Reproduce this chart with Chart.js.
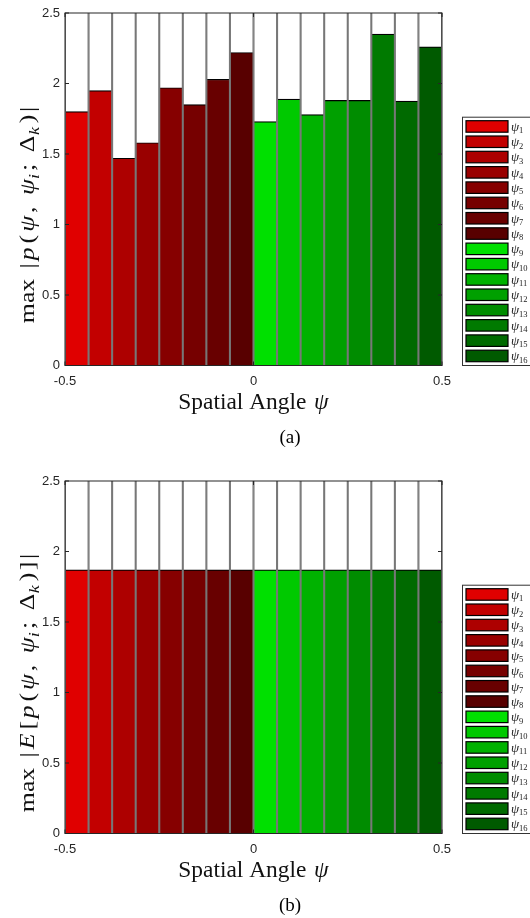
<!DOCTYPE html>
<html>
<head>
<meta charset="utf-8">
<script src="https://cdn.jsdelivr.net/npm/chart.js@4.4.1/dist/chart.umd.min.js"></script>
<style>
  html, body { margin: 0; padding: 0; background: #fff; overflow: hidden; }
  .panel { position: absolute; left: 0; width: 530px; height: 450px; }
  #panelA { top: 0; }
  #panelB { top: 468px; }
</style>
</head>
<body>
<div class="panel" id="panelA"><canvas id="chartA" width="530" height="450"></canvas></div>
<div class="panel" id="panelB"><canvas id="chartB" width="530" height="450"></canvas></div>
<script>
// centres of the 16 angle bins on [-0.5, 0.5]
const psiCenters = [-0.46875, -0.40625, -0.34375, -0.28125, -0.21875, -0.15625, -0.09375, -0.03125,
                     0.03125,  0.09375,  0.15625,  0.21875,  0.28125,  0.34375,  0.40625,  0.46875];
const psiIndex = ['1', '2', '3', '4', '5', '6', '7', '8', '9', '10', '11', '12', '13', '14', '15', '16'];

// (a) peak of |p| per beam, (b) peak of |E[p]| per beam
const peakValues     = [1.80, 1.95, 1.47, 1.58, 1.97, 1.85, 2.03, 2.22,
                        1.73, 1.89, 1.78, 1.88, 1.88, 2.35, 1.875, 2.26];
const expectedValues = [1.87, 1.87, 1.87, 1.87, 1.87, 1.87, 1.87, 1.87,
                        1.87, 1.87, 1.87, 1.87, 1.87, 1.87, 1.87, 1.87];

const xTicks = [-0.5, 0, 0.5];
const yTicks = [0, 0.5, 1, 1.5, 2, 2.5];
const yMax = 2.5;

const barColors = ['#e00000', '#c20000', '#ad0000', '#990000', '#860000', '#760000', '#680000', '#580000',
                   '#00e000', '#00c900', '#00b200', '#00a000', '#008c00', '#007a00', '#006a00', '#005a00'];

const SERIF = '"Liberation Serif", "Times New Roman", serif';
const SANS = '"Liberation Sans", Arial, sans-serif';
const INK = '#262626';

// rich text pieces: [text, italic, subscript, extra gap after (em)]
const titleA = [['max', 0, 0, 0.4], ['|', 0, 0, 0.12], ['p', 1, 0, 0.15], ['(', 0, 0, 0.12], ['\u03c8', 1, 0, 0.1], [',', 0, 0, 0.45],
                ['\u03c8', 1, 0, 0], ['i', 1, 1, 0.12], [';', 0, 0, 0.45], ['\u0394', 0, 0, 0.02], ['k', 1, 1, 0.15], [')', 0, 0, 0.1], ['|', 0, 0, 0]];
const titleB = [['max', 0, 0, 0.4], ['|', 0, 0, 0.12], ['E', 1, 0, 0.15], ['[', 0, 0, 0.1], ['p', 1, 0, 0.15], ['(', 0, 0, 0.12], ['\u03c8', 1, 0, 0.1], [',', 0, 0, 0.45],
                ['\u03c8', 1, 0, 0], ['i', 1, 1, 0.12], [';', 0, 0, 0.45], ['\u0394', 0, 0, 0.02], ['k', 1, 1, 0.15], [')', 0, 0, 0.1], [']', 0, 0, 0.1], ['|', 0, 0, 0]];
const xTitle = [['Spatial Angle ', 0, 0, 0.08], ['\u03c8', 1, 0, 0]];

function partFont(p, size) {
  const s = p[2] ? size * 0.7 : size;
  return (p[1] ? 'italic ' : '') + s + 'px ' + SERIF;
}

function richWidth(ctx, parts, size) {
  let w = 0;
  parts.forEach(p => { ctx.font = partFont(p, size); w += ctx.measureText(p[0]).width + (p[3] || 0) * size; });
  return w;
}

// draws parts centred on cx, with baseline at cy; optional rotation and
// horizontal stretch to mimic the wider math typeface
function drawRich(ctx, parts, cx, cy, size, angle, stretch) {
  ctx.save();
  ctx.translate(cx, cy);
  ctx.rotate(angle || 0);
  ctx.scale(stretch || 1, 1);
  ctx.fillStyle = '#111';
  ctx.textBaseline = 'alphabetic';
  ctx.textAlign = 'left';
  let x = -richWidth(ctx, parts, size) / 2;
  parts.forEach(p => {
    ctx.font = partFont(p, size);
    ctx.fillText(p[0], x, p[2] ? size * 0.22 : 0);
    x += ctx.measureText(p[0]).width + (p[3] || 0) * size;
  });
  ctx.restore();
}

// box, inner ticks, titles and the beam legend
const decorPlugin = {
  id: 'decor',
  afterDraw(chart, args, opts) {
    const ctx = chart.ctx;
    const a = chart.chartArea;
    const xs = chart.scales.x, ys = chart.scales.y;

    ctx.save();
    ctx.strokeStyle = INK;
    ctx.lineWidth = 1;
    ctx.strokeRect(a.left, a.top, a.right - a.left, a.bottom - a.top);
    ctx.beginPath();
    yTicks.forEach(v => {
      const y = ys.getPixelForValue(v);
      ctx.moveTo(a.left, y); ctx.lineTo(a.left + 4, y);
      ctx.moveTo(a.right, y); ctx.lineTo(a.right - 4, y);
    });
    xTicks.forEach(v => {
      const x = xs.getPixelForValue(v);
      ctx.moveTo(x, a.bottom); ctx.lineTo(x, a.bottom - 4);
      ctx.moveTo(x, a.top); ctx.lineTo(x, a.top + 4);
    });
    ctx.stroke();
    ctx.restore();

    drawRich(ctx, opts.yTitle, 34, 215, 21.5, -Math.PI / 2, 1.2);
    drawRich(ctx, xTitle, (a.left + a.right) / 2, 409, 22.5, 0, 1.04);

    ctx.save();
    ctx.fillStyle = '#000';
    ctx.font = '19px ' + SERIF;
    ctx.textAlign = 'center';
    ctx.fillText(opts.caption, 290, 443);
    ctx.restore();

    // legend
    const pitch = 15.3;
    const lx = a.right + 20;
    const top = a.bottom - psiIndex.length * pitch - 4;
    ctx.save();
    ctx.fillStyle = '#fff';
    ctx.fillRect(lx, top, 80, a.bottom - top);
    ctx.strokeStyle = '#333';
    ctx.lineWidth = 1;
    ctx.strokeRect(lx + 0.5, top + 0.5, 80, a.bottom - top - 0.5);
    psiIndex.forEach((n, i) => {
      const y = top + 4 + i * pitch;
      ctx.fillStyle = barColors[i];
      ctx.fillRect(lx + 4, y, 42, 11.5);
      ctx.strokeStyle = '#000';
      ctx.lineWidth = 1.2;
      ctx.strokeRect(lx + 4, y, 42, 11.5);
      ctx.fillStyle = '#222';
      ctx.textBaseline = 'alphabetic';
      ctx.font = 'italic 13px ' + SERIF;
      ctx.fillText('\u03c8', lx + 49, y + 10);
      const w = ctx.measureText('\u03c8').width;
      ctx.font = '8.5px ' + SERIF;
      ctx.fillText(n, lx + 49 + w, y + 12.5);
    });
    ctx.restore();
  }
};

function makeChart(id, values, yTitle, caption) {
  return new Chart(document.getElementById(id), {
    type: 'bar',
    data: {
      datasets: [
        {
          data: values.map((v, i) => ({ x: psiCenters[i], y: v })),
          backgroundColor: barColors,
          borderColor: '#000',
          borderWidth: { top: 1.2, left: 0, right: 0, bottom: 0 },
          grouped: false,
          barPercentage: 1,
          categoryPercentage: 1,
          order: 2
        },
        {
          // column outlines spanning the full height
          data: psiCenters.map(x => ({ x, y: yMax })),
          backgroundColor: 'rgba(0,0,0,0)',
          borderColor: '#777',
          borderWidth: { top: 0, left: 0.7, right: 0.7, bottom: 0 },
          grouped: false,
          barPercentage: 1,
          categoryPercentage: 1,
          order: 1
        }
      ]
    },
    options: {
      responsive: false,
      animation: false,
      events: [],
      layout: { padding: { left: 0, top: 13, right: 88, bottom: 0 } },
      plugins: {
        legend: { display: false },
        tooltip: { enabled: false },
        decor: { yTitle, caption }
      },
      scales: {
        x: {
          type: 'linear',
          min: -0.5,
          max: 0.5,
          offset: false,
          afterBuildTicks: s => { s.ticks = xTicks.map(v => ({ value: v })); },
          afterFit: s => { s.height = 84.5; },
          grid: { display: false, drawTicks: false },
          border: { display: false },
          ticks: { padding: 8, maxRotation: 0, color: INK, font: { family: SANS, size: 13 },
                   callback: v => String(v) }
        },
        y: {
          min: 0,
          max: yMax,
          afterBuildTicks: s => { s.ticks = yTicks.map(v => ({ value: v })); },
          afterFit: s => { s.width = 65; },
          grid: { display: false, drawTicks: false },
          border: { display: false },
          ticks: { padding: 5, color: INK, font: { family: SANS, size: 13 },
                   callback: v => String(v) }
        }
      }
    },
    plugins: [decorPlugin]
  });
}

makeChart('chartA', peakValues, titleA, '(a)');
makeChart('chartB', expectedValues, titleB, '(b)');
</script>
</body>
</html>
